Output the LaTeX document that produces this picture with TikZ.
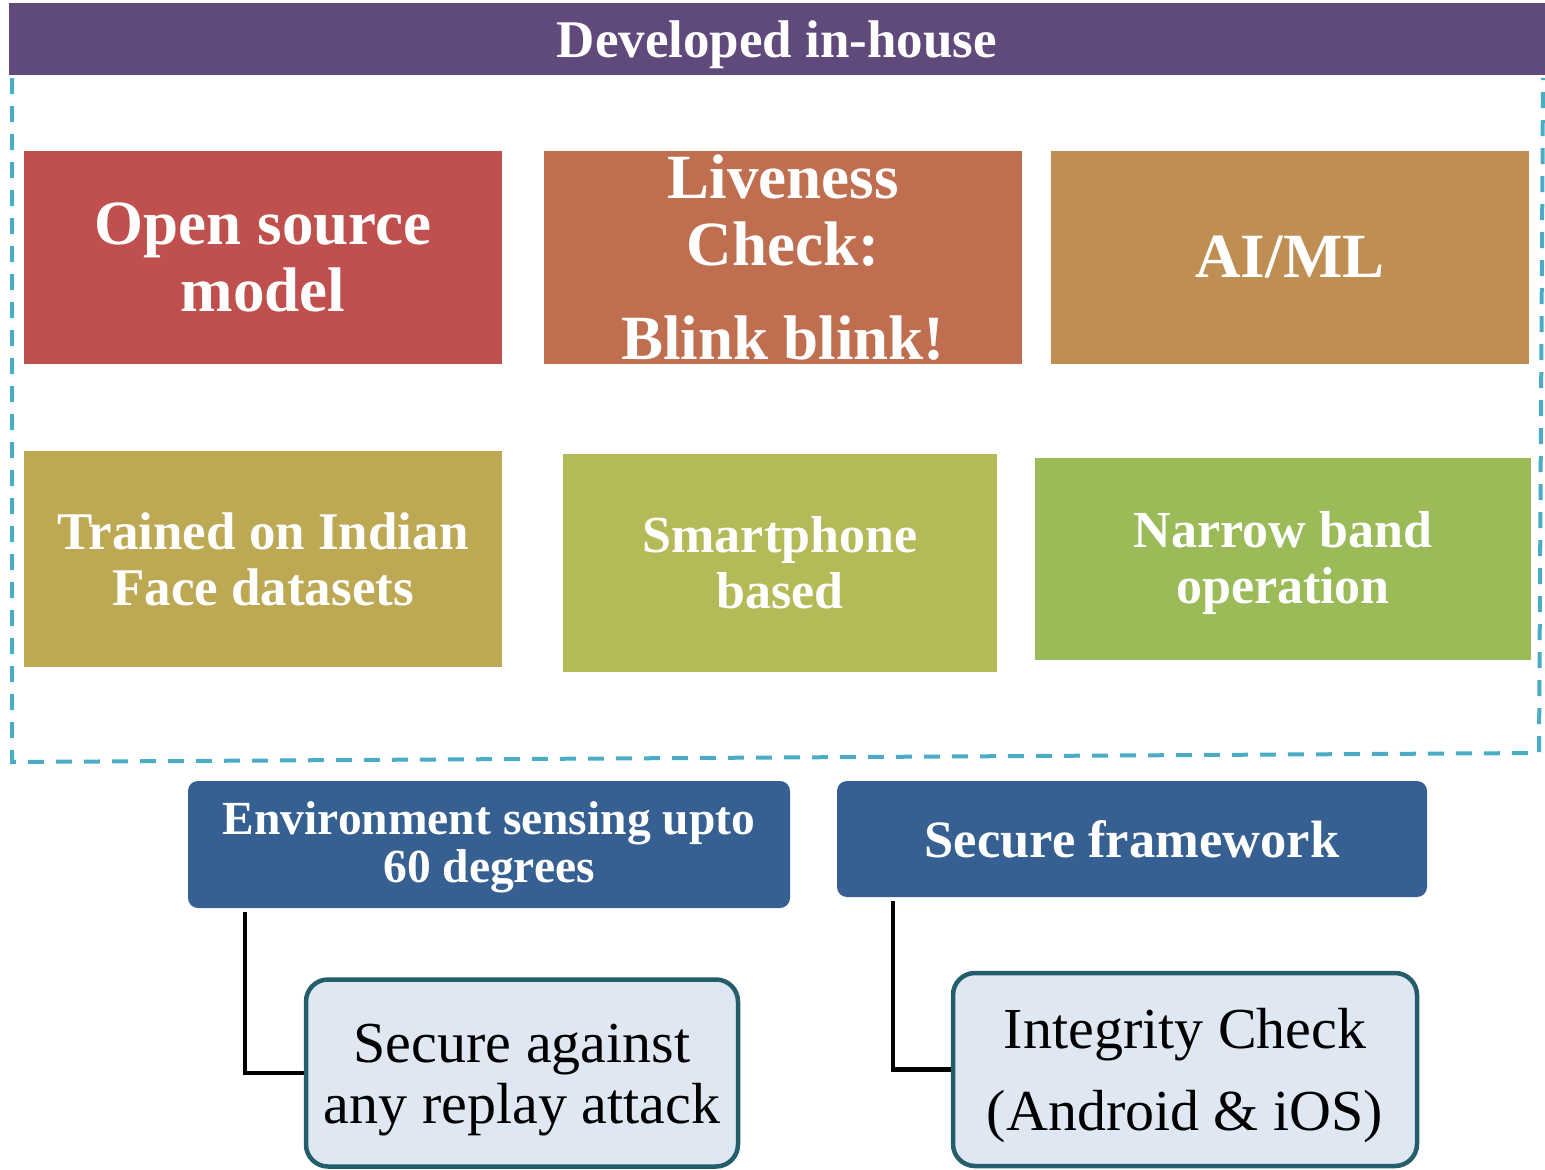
\documentclass[tikz,border=0pt]{standalone}
\usepackage{fontspec}
\setmainfont{Liberation Serif}
\definecolor{banner}{HTML}{604A7B}
\definecolor{cA}{HTML}{C0504D}
\definecolor{cB}{HTML}{C06E50}
\definecolor{cC}{HTML}{BF8E52}
\definecolor{cD}{HTML}{BDA853}
\definecolor{cE}{HTML}{B5BA59}
\definecolor{cF}{HTML}{9BBB59}
\definecolor{navy}{HTML}{376092}
\definecolor{pale}{HTML}{DFE7F2}
\definecolor{teal}{HTML}{245D6B}
\definecolor{dashc}{HTML}{4BACC6}
\tikzset{
  tile/.style={rectangle, inner sep=0pt, text=white, align=center},
  txt/.style={inner sep=0pt, align=center},
  bigf/.style={font={\fontsize{63}{67}\selectfont\bfseries}},
  midf/.style={font={\fontsize{52}{56}\selectfont\bfseries}},
  navybox/.style={rectangle, rounded corners=10pt, fill=navy, inner sep=0pt},
  palebox/.style={rectangle, rounded corners=22pt, fill=pale, draw=teal, line width=4.5pt, inner sep=0pt},
  conn/.style={draw=black, line width=4.5pt},
}
\begin{document}
\begin{tikzpicture}[x=1pt,y=-1pt]
\useasboundingbox (0,0) rectangle (1545,1170);
% dashed frame
\draw[dashc, line width=4pt, dash pattern=on 16pt off 12pt] (12,78) -- (12,762) -- (1539,753) -- (1543,78);
% banner
\node[tile, fill=banner, minimum width=1536pt, minimum height=72pt] (ban) at (777,39) {};
\node[txt, text=white, font={\fontsize{53}{56}\selectfont\bfseries}] (bant) at ([yshift=-6pt]ban.center) {Developed in-house};
% row 1
\node[tile, bigf, fill=cA, minimum width=478pt, minimum height=213pt] (os) at (263,257.5) {Open source\\model};
\node[tile, bigf, fill=cB, minimum width=478pt, minimum height=213pt] (lv) at (783,257.5) {Liveness\\Check:\\[27pt]Blink blink!};
\node[tile, bigf, fill=cC, minimum width=478pt, minimum height=213pt] (ai) at (1290,257.5) {AI/ML};
% row 2
\node[tile, fill=cD, minimum width=478pt, minimum height=216pt, font={\fontsize{53}{56}\selectfont\bfseries}] (tr) at (263,559) {Trained on Indian\\Face datasets};
\node[tile, midf, fill=cE, minimum width=434pt, minimum height=218pt] (sm) at (780,563) {Smartphone\\based};
\node[tile, fill=cF, minimum width=496pt, minimum height=202pt] (nb) at (1283,559) {};
\node[txt, midf, text=white] (nbt) at ([yshift=-4pt]nb.center) {Narrow band\\operation};
% bottom
\node[navybox, minimum width=602pt, minimum height=127pt] (env) at (489,844.5) {};
\node[txt, text=white, font={\fontsize{47.5}{48}\selectfont\bfseries}] (envt) at ([yshift=-3pt]env.center) {Environment sensing upto\\60 degrees};
\node[navybox, minimum width=590pt, minimum height=116pt] (sf) at (1132,839) {};
\node[txt, text=white, font={\fontsize{52.5}{54}\selectfont\bfseries}] (sft) at (sf.center) {Secure framework};
\node[palebox, minimum width=432pt, minimum height=187pt] (sa) at (522,1073) {};
\node[txt, font={\fontsize{58}{61}\selectfont}] (sat) at ([yshift=-7pt]sa.center) {Secure against\\any replay attack};
\node[palebox, minimum width=464pt, minimum height=193pt] (ic) at (1185,1069.5) {};
\node[txt, font={\fontsize{58}{82}\selectfont}] (ict) at ([yshift=-6pt]ic.center) {Integrity Check\\(Android \& iOS)};
% connectors
\draw[conn] ([xshift=57pt,yshift=-4pt]env.south west) |- (sa.west);
\draw[conn] ([xshift=56pt,yshift=-4pt]sf.south west) |- (ic.west);
\end{tikzpicture}
\end{document}
